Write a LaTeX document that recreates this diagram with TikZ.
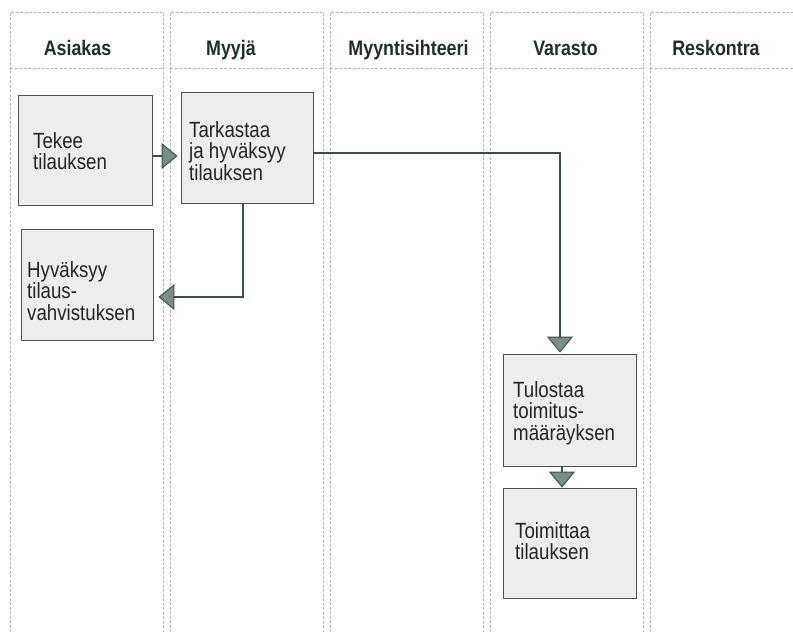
\documentclass[tikz,border=0pt]{standalone}
\usepackage{fontspec}
\setmainfont{Liberation Sans}[FakeStretch=0.85]
\usetikzlibrary{arrows.meta}
\definecolor{lanec}{HTML}{B4B8B6}
\definecolor{linec}{HTML}{38504C}
\definecolor{tipc}{HTML}{7A8E88}
\definecolor{headc}{HTML}{1E2E2E}
\definecolor{txtc}{HTML}{252525}
\definecolor{boxfill}{HTML}{EDEDEC}
\definecolor{boxdraw}{HTML}{505050}
\tikzset{
  lanebox/.style={draw=lanec, line width=0.7pt, dash pattern=on 3pt off 1.5pt},
  headtxt/.style={font=\fontsize{21}{23}\selectfont\bfseries, text=headc, inner sep=0pt, anchor=base},
  procbox/.style={draw=boxdraw, fill=boxfill, line width=0.9pt, inner sep=0pt, rectangle},
  proctxt/.style={font=\fontsize{22}{21.5}\selectfont, text=txtc, inner sep=0pt, align=left, anchor=north west},
  flow/.style={draw=linec, line width=2.2pt,
    -{Triangle[width=26pt,length=16pt,fill=tipc,line width=1pt]}},
}
\begin{document}
\begin{tikzpicture}[x=1pt,y=-1pt]
\useasboundingbox (0,0) rectangle (793,635);
% lanes
\foreach \l/\r in {10/163,170/323,330/483,490/643,650/800}{
  \draw[lanebox] (\l,632) -- (\l,12) -- (\r,12) -- (\r,632);
  \draw[lanebox] (\l,68) -- (\r,68);
}
% headers
\node[headtxt] (h1) at (77.5,55) {Asiakas};
\node[headtxt] (h2) at (231,55) {Myyjä};
\node[headtxt] (h3) at (408.5,55) {Myyntisihteeri};
\node[headtxt] (h4) at (565.5,55) {Varasto};
\node[headtxt] (h5) at (716,55) {Reskontra};
% boxes
\node[procbox, minimum width=134pt, minimum height=110pt] (tekee) at (85,150) {};
\node[procbox, minimum width=132pt, minimum height=111pt] (tark) at (247,147.5) {};
\node[procbox, minimum width=132pt, minimum height=111pt] (hyv) at (87,284.5) {};
\node[procbox, minimum width=133pt, minimum height=112pt] (tulo) at (569.5,410) {};
\node[procbox, minimum width=133pt, minimum height=110pt] (toim) at (569.5,543) {};
% texts
\node[proctxt] (t1) at (33,132.2) {Tekee\\tilauksen};
\node[proctxt] (t2) at (189,121.2) {Tarkastaa\\ja hyväksyy\\tilauksen};
\node[proctxt] (t3) at (27,261.2) {Hyväksyy\\tilaus-\\vahvistuksen};
\node[proctxt] (t4) at (513,381.2) {Tulostaa\\toimitus-\\määräyksen};
\node[proctxt] (t5) at (515,522.2) {Toimittaa\\tilauksen};
% connectors
\draw[flow, shorten >=3pt] ([yshift=-6pt]tekee.east) -- ([yshift=-8.5pt]tark.west);
\draw[flow, shorten >=5pt] ([xshift=-4pt]tark.south) |- ([yshift=-12.5pt]hyv.east);
\draw[flow, shorten >=1pt] ([yshift=-5.5pt]tark.east) -| ([xshift=-9.5pt]tulo.north);
\draw[flow] ([xshift=-7.5pt]tulo.south) -- ([xshift=-7.5pt]toim.north);
\end{tikzpicture}
\end{document}
